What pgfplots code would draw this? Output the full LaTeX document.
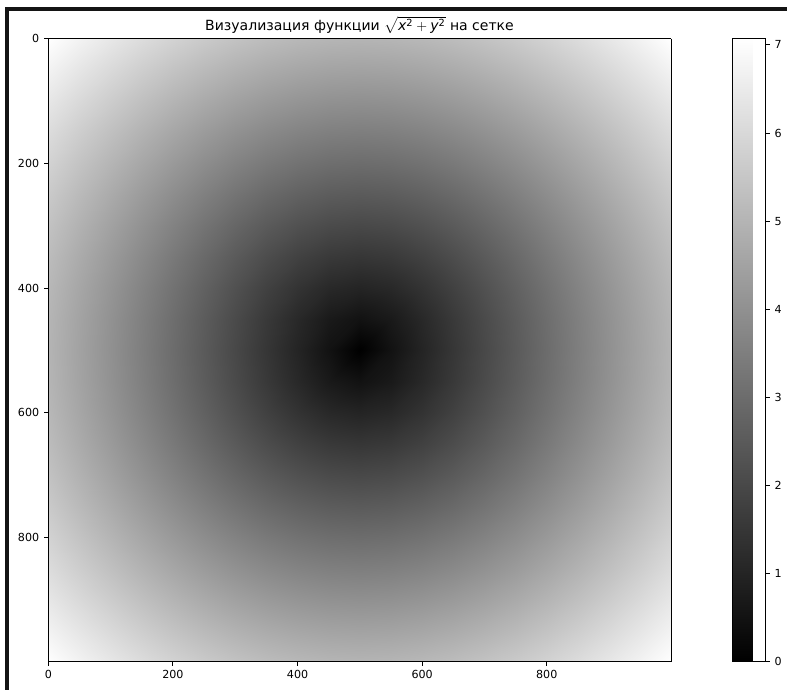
\documentclass[border=0pt]{standalone}
\usepackage{fontspec}
\setmainfont{DejaVu Sans}
\usepackage{amsmath}
\usepackage{pgfplots}
\pgfplotsset{compat=1.18}
\begin{document}
\begin{tikzpicture}
\useasboundingbox (0,0) rectangle (566.64pt,496.8pt);
\draw[line width=2.9pt, color=black!92] (3.6pt,490.3pt) -- (566.64pt,490.3pt);
\draw[line width=2.9pt, color=black!92] (5.04pt,0pt) -- (5.04pt,491.75pt);
\begin{axis}[
  at={(34.56pt,20.4pt)}, anchor=south west,
  scale only axis, width=448.6pt, height=448.6pt,
  view={0}{90},
  xmin=-0.5, xmax=999.5, ymin=-0.5, ymax=999.5,
  y dir=reverse,
  xtick={0,200,400,600,800}, ytick={0,200,400,600,800},
  xtick pos=bottom, ytick pos=left,
  tick align=outside, major tick length=2.8pt,
  every tick/.style={black, line width=0.64pt},
  axis line style={line width=0.64pt},
  ticklabel style={font=\fontsize{8}{9.6}\selectfont},
  /pgf/number format/assume math mode=true,
  scaled ticks=false,
  title={Визуализация функции $\sqrt{\textit{x}^{\text{2}}+\textit{y}^{\text{2}}}$ на сетке},
  title style={at={(0.5,1)}, anchor=base, yshift=0pt, font=\fontsize{10.1}{12}\selectfont},
  colormap={mplgray}{gray(0cm)=(0); gray(1cm)=(1)},
  point meta min=0, point meta max=7.071,
  colorbar,
  colorbar style={
    at={(parent axis.north east)}, anchor=north west, xshift=36pt,
    width=23.76pt, height=448.6pt,
    ytick={0,1,2,3,4,5,6,7},
    ytick pos=right, yticklabel pos=right,
    tick align=outside, major tick length=2.8pt,
    every tick/.style={black, line width=0.64pt},
    axis line style={line width=0.64pt},
    ticklabel style={font=\fontsize{8}{9.6}\selectfont},
    /pgf/number format/assume math mode=true,
  },
  axis on top,
]
\addplot3[surf, shader=interp, mesh/cols=21] table[x=x, y=y, z=z] {
x y z
0 0 7.071
50 0 6.727
100 0 6.403
150 0 6.103
200 0 5.831
250 0 5.590
300 0 5.385
350 0 5.220
400 0 5.099
450 0 5.025
500 0 5
550 0 5.025
600 0 5.099
650 0 5.220
700 0 5.385
750 0 5.590
800 0 5.831
850 0 6.103
900 0 6.403
950 0 6.727
1000 0 7.071
0 50 6.727
50 50 6.364
100 50 6.021
150 50 5.701
200 50 5.408
250 50 5.148
300 50 4.924
350 50 4.743
400 50 4.610
450 50 4.528
500 50 4.5
550 50 4.528
600 50 4.610
650 50 4.743
700 50 4.924
750 50 5.148
800 50 5.408
850 50 5.701
900 50 6.021
950 50 6.364
1000 50 6.727
0 100 6.403
50 100 6.021
100 100 5.657
150 100 5.315
200 100 5
250 100 4.717
300 100 4.472
350 100 4.272
400 100 4.123
450 100 4.031
500 100 4
550 100 4.031
600 100 4.123
650 100 4.272
700 100 4.472
750 100 4.717
800 100 5
850 100 5.315
900 100 5.657
950 100 6.021
1000 100 6.403
0 150 6.103
50 150 5.701
100 150 5.315
150 150 4.950
200 150 4.610
250 150 4.301
300 150 4.031
350 150 3.808
400 150 3.640
450 150 3.536
500 150 3.5
550 150 3.536
600 150 3.640
650 150 3.808
700 150 4.031
750 150 4.301
800 150 4.610
850 150 4.950
900 150 5.315
950 150 5.701
1000 150 6.103
0 200 5.831
50 200 5.408
100 200 5
150 200 4.610
200 200 4.243
250 200 3.905
300 200 3.606
350 200 3.354
400 200 3.162
450 200 3.041
500 200 3
550 200 3.041
600 200 3.162
650 200 3.354
700 200 3.606
750 200 3.905
800 200 4.243
850 200 4.610
900 200 5
950 200 5.408
1000 200 5.831
0 250 5.590
50 250 5.148
100 250 4.717
150 250 4.301
200 250 3.905
250 250 3.536
300 250 3.202
350 250 2.915
400 250 2.693
450 250 2.550
500 250 2.5
550 250 2.550
600 250 2.693
650 250 2.915
700 250 3.202
750 250 3.536
800 250 3.905
850 250 4.301
900 250 4.717
950 250 5.148
1000 250 5.590
0 300 5.385
50 300 4.924
100 300 4.472
150 300 4.031
200 300 3.606
250 300 3.202
300 300 2.828
350 300 2.5
400 300 2.236
450 300 2.062
500 300 2
550 300 2.062
600 300 2.236
650 300 2.5
700 300 2.828
750 300 3.202
800 300 3.606
850 300 4.031
900 300 4.472
950 300 4.924
1000 300 5.385
0 350 5.220
50 350 4.743
100 350 4.272
150 350 3.808
200 350 3.354
250 350 2.915
300 350 2.5
350 350 2.121
400 350 1.803
450 350 1.581
500 350 1.5
550 350 1.581
600 350 1.803
650 350 2.121
700 350 2.5
750 350 2.915
800 350 3.354
850 350 3.808
900 350 4.272
950 350 4.743
1000 350 5.220
0 400 5.099
50 400 4.610
100 400 4.123
150 400 3.640
200 400 3.162
250 400 2.693
300 400 2.236
350 400 1.803
400 400 1.414
450 400 1.118
500 400 1
550 400 1.118
600 400 1.414
650 400 1.803
700 400 2.236
750 400 2.693
800 400 3.162
850 400 3.640
900 400 4.123
950 400 4.610
1000 400 5.099
0 450 5.025
50 450 4.528
100 450 4.031
150 450 3.536
200 450 3.041
250 450 2.550
300 450 2.062
350 450 1.581
400 450 1.118
450 450 0.707
500 450 0.5
550 450 0.707
600 450 1.118
650 450 1.581
700 450 2.062
750 450 2.550
800 450 3.041
850 450 3.536
900 450 4.031
950 450 4.528
1000 450 5.025
0 500 5
50 500 4.5
100 500 4
150 500 3.5
200 500 3
250 500 2.5
300 500 2
350 500 1.5
400 500 1
450 500 0.5
500 500 0
550 500 0.5
600 500 1
650 500 1.5
700 500 2
750 500 2.5
800 500 3
850 500 3.5
900 500 4
950 500 4.5
1000 500 5
0 550 5.025
50 550 4.528
100 550 4.031
150 550 3.536
200 550 3.041
250 550 2.550
300 550 2.062
350 550 1.581
400 550 1.118
450 550 0.707
500 550 0.5
550 550 0.707
600 550 1.118
650 550 1.581
700 550 2.062
750 550 2.550
800 550 3.041
850 550 3.536
900 550 4.031
950 550 4.528
1000 550 5.025
0 600 5.099
50 600 4.610
100 600 4.123
150 600 3.640
200 600 3.162
250 600 2.693
300 600 2.236
350 600 1.803
400 600 1.414
450 600 1.118
500 600 1
550 600 1.118
600 600 1.414
650 600 1.803
700 600 2.236
750 600 2.693
800 600 3.162
850 600 3.640
900 600 4.123
950 600 4.610
1000 600 5.099
0 650 5.220
50 650 4.743
100 650 4.272
150 650 3.808
200 650 3.354
250 650 2.915
300 650 2.5
350 650 2.121
400 650 1.803
450 650 1.581
500 650 1.5
550 650 1.581
600 650 1.803
650 650 2.121
700 650 2.5
750 650 2.915
800 650 3.354
850 650 3.808
900 650 4.272
950 650 4.743
1000 650 5.220
0 700 5.385
50 700 4.924
100 700 4.472
150 700 4.031
200 700 3.606
250 700 3.202
300 700 2.828
350 700 2.5
400 700 2.236
450 700 2.062
500 700 2
550 700 2.062
600 700 2.236
650 700 2.5
700 700 2.828
750 700 3.202
800 700 3.606
850 700 4.031
900 700 4.472
950 700 4.924
1000 700 5.385
0 750 5.590
50 750 5.148
100 750 4.717
150 750 4.301
200 750 3.905
250 750 3.536
300 750 3.202
350 750 2.915
400 750 2.693
450 750 2.550
500 750 2.5
550 750 2.550
600 750 2.693
650 750 2.915
700 750 3.202
750 750 3.536
800 750 3.905
850 750 4.301
900 750 4.717
950 750 5.148
1000 750 5.590
0 800 5.831
50 800 5.408
100 800 5
150 800 4.610
200 800 4.243
250 800 3.905
300 800 3.606
350 800 3.354
400 800 3.162
450 800 3.041
500 800 3
550 800 3.041
600 800 3.162
650 800 3.354
700 800 3.606
750 800 3.905
800 800 4.243
850 800 4.610
900 800 5
950 800 5.408
1000 800 5.831
0 850 6.103
50 850 5.701
100 850 5.315
150 850 4.950
200 850 4.610
250 850 4.301
300 850 4.031
350 850 3.808
400 850 3.640
450 850 3.536
500 850 3.5
550 850 3.536
600 850 3.640
650 850 3.808
700 850 4.031
750 850 4.301
800 850 4.610
850 850 4.950
900 850 5.315
950 850 5.701
1000 850 6.103
0 900 6.403
50 900 6.021
100 900 5.657
150 900 5.315
200 900 5
250 900 4.717
300 900 4.472
350 900 4.272
400 900 4.123
450 900 4.031
500 900 4
550 900 4.031
600 900 4.123
650 900 4.272
700 900 4.472
750 900 4.717
800 900 5
850 900 5.315
900 900 5.657
950 900 6.021
1000 900 6.403
0 950 6.727
50 950 6.364
100 950 6.021
150 950 5.701
200 950 5.408
250 950 5.148
300 950 4.924
350 950 4.743
400 950 4.610
450 950 4.528
500 950 4.5
550 950 4.528
600 950 4.610
650 950 4.743
700 950 4.924
750 950 5.148
800 950 5.408
850 950 5.701
900 950 6.021
950 950 6.364
1000 950 6.727
0 1000 7.071
50 1000 6.727
100 1000 6.403
150 1000 6.103
200 1000 5.831
250 1000 5.590
300 1000 5.385
350 1000 5.220
400 1000 5.099
450 1000 5.025
500 1000 5
550 1000 5.025
600 1000 5.099
650 1000 5.220
700 1000 5.385
750 1000 5.590
800 1000 5.831
850 1000 6.103
900 1000 6.403
950 1000 6.727
1000 1000 7.071
};
\end{axis}
\end{tikzpicture}
\end{document}
